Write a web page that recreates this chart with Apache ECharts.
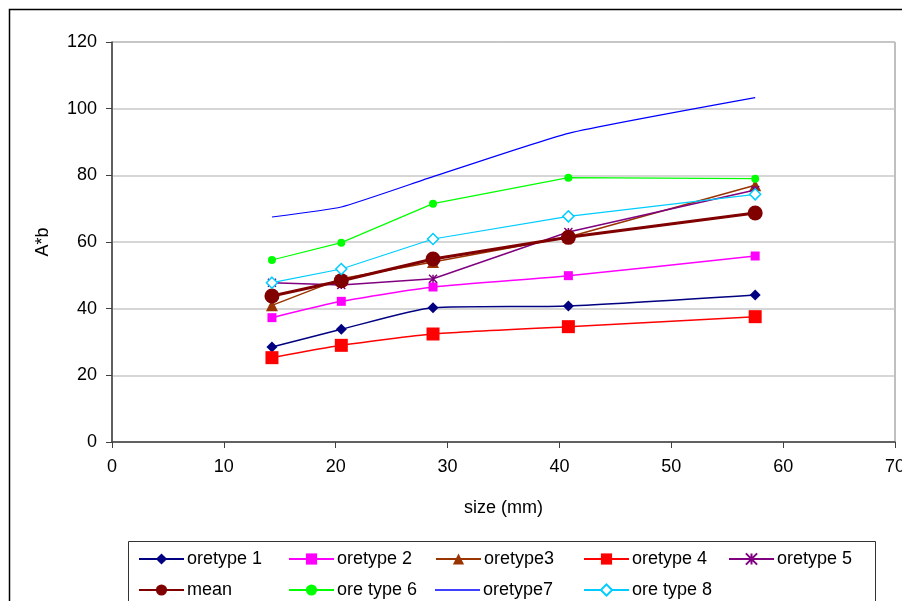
<!DOCTYPE html>
<html>
<head>
<meta charset="utf-8">
<script src="https://cdn.jsdelivr.net/npm/echarts@6/dist/echarts.min.js"></script>
<style>html,body{margin:0;padding:0;background:#fff}#c{width:902px;height:601px}</style>
</head>
<body>
<div id="c"></div>
<script>
const sizes = [14.3, 20.5, 28.7, 40.8, 57.5];
const oretype1 = [28.5, 33.8, 40.3, 40.8, 44.1];
const oretype2 = [37.3, 42.2, 46.5, 49.9, 55.8];
const oretype3 = [41.0, 49.0, 54.0, 61.5, 77.0];
const oretype4 = [25.3, 29.0, 32.4, 34.6, 37.6];
const oretype5 = [47.8, 47.1, 49.0, 63.0, 75.6];
const meanVals = [43.8, 48.4, 54.9, 61.4, 68.7];
const oretype6 = [54.6, 59.8, 71.5, 79.3, 79.0];
const oretype7 = [67.5, 70.5, 79.6, 92.6, 103.3];
const oretype8 = [47.8, 51.9, 60.9, 67.7, 74.3];
const seriesNames = ['oretype 1','oretype 2','oretype3','oretype 4','oretype 5','mean','ore type 6','oretype7','ore type 8'];
const xTicks = [0,10,20,30,40,50,60,70];
const yTicks = [0,20,40,60,80,100,120];

const pairs = v => sizes.map((s,i)=>[s,v[i]]);
const font = 'Liberation Sans, Arial, sans-serif';
const fs = 18;

const styles = [
  {data: oretype1, color:'#000080', symbol:'diamond', size:11, lw:1.5, smooth:0.2},
  {data: oretype2, color:'#ff00ff', symbol:'rect', size:9, lw:1.5, smooth:0.2},
  {data: oretype3, color:'#993300', symbol:'triangle', size:12, lw:1.5, smooth:0},
  {data: oretype4, color:'#ff0000', symbol:'rect', size:13, lw:1.5, smooth:0.2},
  {data: oretype5, color:'#800080', symbol:'path://M0,0L10,10M10,0L0,10M5,0L5,10', size:8, lw:1.5, smooth:0, hollow:true},
  {data: meanVals, color:'#800000', symbol:'circle', size:15, lw:3, smooth:0},
  {data: oretype6, color:'#00ff00', symbol:'circle', size:8, lw:1.2, smooth:0},
  {data: oretype7, color:'#0000ff', symbol:'none', size:0, lw:1.2, smooth:0.15},
  {data: oretype8, color:'#00ccff', symbol:'diamond', size:11, lw:1.2, smooth:0, open:true}
];

const series = styles.map((s,i)=>{
  const itemStyle = {color:s.color};
  if (s.open) { itemStyle.color = '#ffffff'; itemStyle.borderColor = s.color; itemStyle.borderWidth = 1.5; }
  if (s.hollow) { itemStyle.color = 'none'; itemStyle.borderColor = s.color; itemStyle.borderWidth = 1.5; }
  return {
    name: seriesNames[i], type:'line', data: pairs(s.data),
    symbol: s.symbol, symbolSize: s.size, showSymbol: s.symbol !== 'none',
    smooth: s.smooth, lineStyle:{color:s.color, width:s.lw}, itemStyle,
    emphasis:{disabled:true}, animation:false, z: 2 + i
  };
});

const colLeft = [138, 288, 435, 583, 728];
const legends = seriesNames.map((n,i)=>{
  const lg = {
    data:[n], left: colLeft[i % 5], top: i < 5 ? 550 : 581,
    itemWidth: 45, itemHeight: 14, itemGap: 0, padding: 0,
    textStyle:{fontFamily:font, fontSize:fs, color:'#000', padding:[0,0,0,-2]},
    selectedMode:false
  };
  if (styles[i].symbol === 'none') {
    lg.data = [{name:n, icon:'rect', itemStyle:{color:styles[i].color}}];
    lg.itemHeight = 1.5;
  }
  return lg;
});

const chart = echarts.init(document.getElementById('c'), null, {renderer:'canvas'});
chart.setOption({
  backgroundColor:'#fff',
  animation:false,
  grid:{left:112, right:7, top:42, height:400, show:true, borderColor:'#808080', borderWidth:1, outerBoundsMode:'none', containLabel:false},
  xAxis:{type:'value', min:0, max:70, interval:10,
    name:'size (mm)', nameLocation:'middle', nameGap:57,
    nameTextStyle:{fontFamily:font, fontSize:fs, color:'#000'},
    axisLine:{show:true, onZero:false, lineStyle:{color:'#404040', width:1.5}},
    axisTick:{show:true, length:6, inside:false, lineStyle:{color:'#404040'}},
    axisLabel:{fontFamily:font, fontSize:fs, color:'#000', margin:16},
    splitLine:{show:false}},
  yAxis:{type:'value', min:0, max:120, interval:20,
    name:'A*b', nameLocation:'middle', nameGap:60, nameRotate:90,
    nameTextStyle:{fontFamily:font, fontSize:fs, color:'#000'},
    axisLine:{show:true, onZero:false, lineStyle:{color:'#404040', width:1.5}},
    axisTick:{show:true, length:6, lineStyle:{color:'#404040'}},
    axisLabel:{fontFamily:font, fontSize:fs, color:'#000', margin:15},
    splitLine:{show:true, lineStyle:{color:'#c8c8c8', width:1.5}}},
  legend: legends,
  graphic:[
    {type:'rect', shape:{x:9.5, y:9.5, width:1000, height:1000}, style:{fill:'none', stroke:'#000', lineWidth:1.5}, silent:true, z:-1},
    {type:'rect', shape:{x:128.5, y:541.5, width:747, height:100}, style:{fill:'#fff', stroke:'#333', lineWidth:1}, silent:true, z:-1}
  ],
  series
});
</script>
</body>
</html>
